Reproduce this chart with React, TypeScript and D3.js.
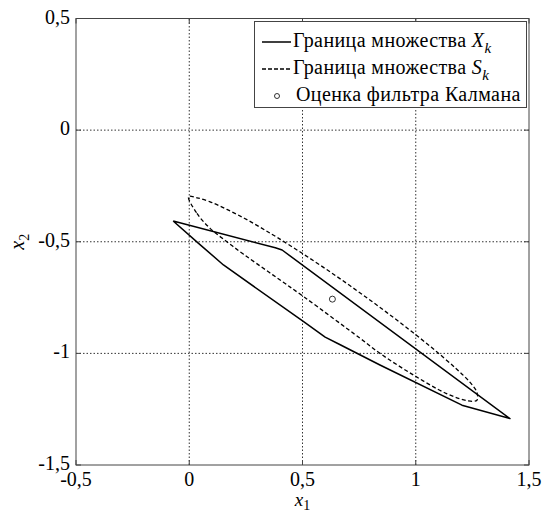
import { useEffect, useRef } from "react";
import * as d3 from "d3";

// Граница множества X_k (сплошная линия)
const setXx = [-0.071, 0.041, 0.151, 0.505, 0.6, 0.66, 0.842, 1.204, 1.416, 0.41, 0.38, -0.071];
const setXy = [-0.407, -0.507, -0.604, -0.858, -0.927, -0.958, -1.052, -1.232, -1.292, -0.537, -0.527, -0.407];

// Граница множества S_k (пунктир)
const setSx = [-0.003, 0.034, 0.092, 0.166, 0.24, 0.357, 0.505, 0.755, 0.842, 0.99, 1.136, 1.232, 1.27, 1.27, 1.24, 1.18, 1.068, 0.931, 0.799, 0.652, 0.505, 0.387, 0.313, 0.24, 0.166, 0.092, 0.034];
const setSy = [-0.298, -0.373, -0.44, -0.5, -0.556, -0.64, -0.746, -0.933, -1.0, -1.097, -1.18, -1.213, -1.21, -1.175, -1.13, -1.07, -0.972, -0.862, -0.762, -0.656, -0.556, -0.48, -0.435, -0.393, -0.355, -0.321, -0.303];

// Оценка фильтра Калмана
const kalmanX = [0.632];
const kalmanY = [-0.757];

const xTicks = [-0.5, 0, 0.5, 1, 1.5];
const yTicks = [-1.5, -1, -0.5, 0, 0.5];
const gridX = [0, 0.5, 1];
const gridY = [-1, -0.5, 0];

const legendNames = ["Граница множества ", "Граница множества ", "Оценка фильтра Калмана"];
const legendSymbols = ["X", "S", ""];

const FONT = "'Liberation Serif', 'Times New Roman', serif";

const fmt = (v: number) => String(v).replace(".", ",");

const Chart = () => {
	const svgRef = useRef<SVGSVGElement>(null);

	useEffect(() => {
		if (!svgRef.current) return;
		const width = 544;
		const height = 514;
		const margin = { top: 18.5, left: 76, right: 15, bottom: 49 };

		const svg = d3.select(svgRef.current).attr("width", width).attr("height", height);
		svg.selectAll("*").remove();

		const x = d3.scaleLinear().domain([-0.5, 1.5]).range([margin.left, width - margin.right]);
		const y = d3.scaleLinear().domain([-1.5, 0.5]).range([height - margin.bottom, margin.top]);

		svg.append("rect").attr("width", width).attr("height", height).attr("fill", "#fff");

		// grid
		svg
			.selectAll(".gx")
			.data(gridX)
			.enter()
			.append("line")
			.attr("x1", (d) => x(d))
			.attr("x2", (d) => x(d))
			.attr("y1", y(-1.5))
			.attr("y2", y(0.5))
			.attr("stroke", "#333")
			.attr("stroke-width", 1)
			.attr("stroke-dasharray", "1.5,2");
		svg
			.selectAll(".gy")
			.data(gridY)
			.enter()
			.append("line")
			.attr("x1", x(-0.5))
			.attr("x2", x(1.5))
			.attr("y1", (d) => y(d))
			.attr("y2", (d) => y(d))
			.attr("stroke", "#333")
			.attr("stroke-width", 1)
			.attr("stroke-dasharray", "1.5,2");

		// ticks on all sides, pointing inwards
		const tickLen = 5;
		const ticks = svg.append("g").attr("stroke", "#444").attr("stroke-width", 1);
		xTicks.forEach((t) => {
			ticks.append("line").attr("x1", x(t)).attr("x2", x(t)).attr("y1", y(-1.5)).attr("y2", y(-1.5) - tickLen);
			ticks.append("line").attr("x1", x(t)).attr("x2", x(t)).attr("y1", y(0.5)).attr("y2", y(0.5) + tickLen);
		});
		yTicks.forEach((t) => {
			ticks.append("line").attr("x1", x(-0.5)).attr("x2", x(-0.5) + tickLen).attr("y1", y(t)).attr("y2", y(t));
			ticks.append("line").attr("x1", x(1.5)).attr("x2", x(1.5) - tickLen).attr("y1", y(t)).attr("y2", y(t));
		});

		// curves
		const pts = (xs: number[], ys: number[]) => xs.map((v, i) => [x(v), y(ys[i])] as [number, number]);
		const line = d3.line();

		svg
			.append("path")
			.attr("d", d3.line().curve(d3.curveCatmullRomClosed.alpha(0.5))(pts(setSx, setSy)))
			.attr("fill", "none")
			.attr("stroke", "#000")
			.attr("stroke-width", 1.3)
			.attr("stroke-dasharray", "4,2.5");

		svg
			.append("path")
			.attr("d", line(pts(setXx, setXy)))
			.attr("fill", "none")
			.attr("stroke", "#000")
			.attr("stroke-width", 1.5)
			.attr("stroke-linejoin", "round");

		svg
			.selectAll(".kalman")
			.data(kalmanX)
			.enter()
			.append("circle")
			.attr("cx", (d) => x(d))
			.attr("cy", (_, i) => y(kalmanY[i]))
			.attr("r", 3)
			.attr("fill", "none")
			.attr("stroke", "#000")
			.attr("stroke-width", 0.8);

		// frame
		svg
			.append("rect")
			.attr("x", x(-0.5))
			.attr("y", y(0.5))
			.attr("width", x(1.5) - x(-0.5))
			.attr("height", y(-1.5) - y(0.5))
			.attr("fill", "none")
			.attr("stroke", "#444")
			.attr("stroke-width", 1);

		// tick labels
		svg
			.selectAll(".xl")
			.data(xTicks)
			.enter()
			.append("text")
			.attr("x", (d) => x(d))
			.attr("y", y(-1.5) + 21)
			.attr("text-anchor", "middle")
			.style("font-family", FONT)
			.style("font-size", "20px")
			.text((d) => fmt(d));
		svg
			.selectAll(".yl")
			.data(yTicks)
			.enter()
			.append("text")
			.attr("x", x(-0.5) - 6)
			.attr("y", (d) => y(d) + 5)
			.attr("text-anchor", "end")
			.style("font-family", FONT)
			.style("font-size", "20px")
			.text((d) => fmt(d));

		// axis labels
		const xl = svg
			.append("text")
			.attr("x", (x(-0.5) + x(1.5)) / 2)
			.attr("y", y(-1.5) + 41)
			.attr("text-anchor", "middle")
			.style("font-family", FONT)
			.style("font-size", "19px");
		xl.append("tspan").style("font-style", "italic").text("x");
		xl.append("tspan").attr("dy", 4).style("font-size", "14px").text("1");

		const yl = svg
			.append("text")
			.attr("transform", `translate(24, ${(y(-1.5) + y(0.5)) / 2}) rotate(-90)`)
			.attr("text-anchor", "middle")
			.style("font-family", FONT)
			.style("font-size", "20px");
		yl.append("tspan").style("font-style", "italic").text("x");
		yl.append("tspan").attr("dy", 5).style("font-size", "14px").text("2");

		// legend
		const lg = svg.append("g");
		lg.append("rect")
			.attr("x", 254.5)
			.attr("y", 21.5)
			.attr("width", 272)
			.attr("height", 86)
			.attr("fill", "#fff")
			.attr("stroke", "#444")
			.attr("stroke-width", 1);

		legendNames.forEach((name, i) => {
			const by = 47 + i * 27;
			if (i < 2) {
				lg.append("line")
					.attr("x1", 262)
					.attr("x2", 291)
					.attr("y1", by - 5)
					.attr("y2", by - 5)
					.attr("stroke", "#000")
					.attr("stroke-width", i === 0 ? 1.5 : 1.3)
					.attr("stroke-dasharray", i === 0 ? null : "4,2");
			} else {
				lg.append("circle")
					.attr("cx", 277)
					.attr("cy", by - 5)
					.attr("r", 2.5)
					.attr("fill", "none")
					.attr("stroke", "#000")
					.attr("stroke-width", 0.8);
			}
			const t = lg
				.append("text")
				.attr("x", i < 2 ? 293 : 296)
				.attr("y", by)
				.style("font-family", FONT)
				.style("font-size", "20px")
				.style("letter-spacing", "0.4px");
			t.append("tspan").text(name);
			if (legendSymbols[i]) {
				t.append("tspan").style("font-style", "italic").text(legendSymbols[i]);
				t.append("tspan").attr("dy", 6).style("font-style", "italic").style("font-size", "15px").text("k");
			}
		});
	}, []);

	return <svg ref={svgRef} style={{ position: "absolute", left: 0, top: 0 }} />;
};

export default function App() {
	return <Chart />;
}
